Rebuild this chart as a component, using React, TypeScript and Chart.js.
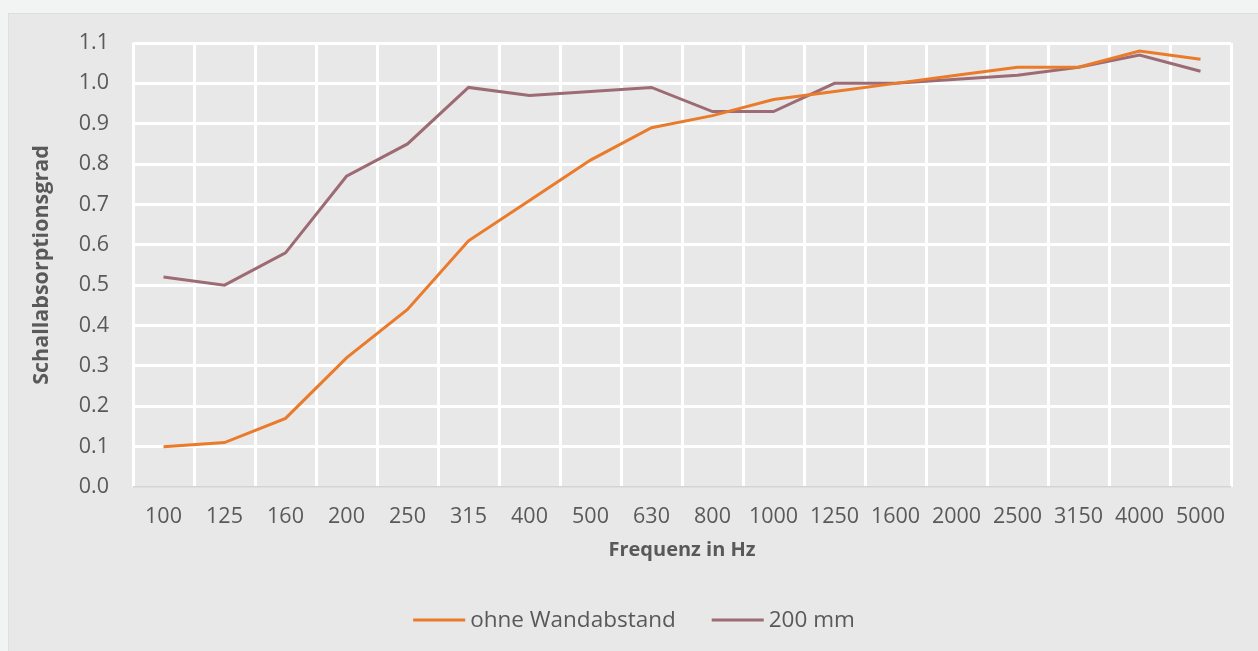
import React, { useEffect, useRef } from "react";
import { Chart, registerables } from "chart.js";

Chart.register(...registerables);

const categories = ["100", "125", "160", "200", "250", "315", "400", "500", "630", "800", "1000", "1250", "1600", "2000", "2500", "3150", "4000", "5000"];
const ohneWandabstand = [0.10, 0.11, 0.17, 0.32, 0.44, 0.61, 0.71, 0.81, 0.89, 0.92, 0.96, 0.98, 1.00, 1.02, 1.04, 1.04, 1.08, 1.06];
const mm200 = [0.52, 0.50, 0.58, 0.77, 0.85, 0.99, 0.97, 0.98, 0.99, 0.93, 0.93, 1.00, 1.00, 1.01, 1.02, 1.04, 1.07, 1.03];
const seriesNames = ["ohne Wandabstand", "200 mm"];
const seriesColors = ["#E97B2B", "#9C6B74"];
const yTitle = "Schallabsorptionsgrad";
const xTitle = "Frequenz in Hz";

const FONT = "'Open Sans', 'Noto Sans', sans-serif";
const TEXT = "#595959";

const bottomLegend = {
  id: "bottomLegend",
  afterDraw(chart: any) {
    const ctx = chart.ctx;
    const lineW = 52;
    const gap = 5;
    const itemGap = 36;
    ctx.save();
    ctx.font = `22.5px ${FONT}`;
    const items = chart.data.datasets.map((d: any) => ({
      label: d.label,
      color: d.borderColor,
      tw: ctx.measureText(d.label).width,
    }));
    const total = items.reduce((a: number, it: any) => a + lineW + gap + it.tw, 0) + itemGap * (items.length - 1);
    let x = chart.width / 2 - total / 2;
    const y = 606;
    ctx.textBaseline = "middle";
    ctx.textAlign = "left";
    for (const it of items) {
      ctx.strokeStyle = it.color;
      ctx.lineWidth = 3;
      ctx.beginPath();
      ctx.moveTo(x, y);
      ctx.lineTo(x + lineW, y);
      ctx.stroke();
      x += lineW + gap;
      ctx.fillStyle = TEXT;
      ctx.fillText(it.label, x, y + 1);
      x += it.tw + itemGap;
    }
    ctx.restore();
  },
};

export default function App() {
  const ref = useRef<HTMLCanvasElement | null>(null);

  useEffect(() => {
    document.body.style.margin = "0";
    document.body.style.background = "#f2f3f3";
    if (!ref.current) return;
    const chart = new Chart(ref.current, {
      type: "line",
      data: {
        labels: categories,
        datasets: [
          {
            label: seriesNames[0],
            data: ohneWandabstand,
            borderColor: seriesColors[0],
            backgroundColor: seriesColors[0],
            borderWidth: 3,
            pointRadius: 0,
            tension: 0,
          },
          {
            label: seriesNames[1],
            data: mm200,
            borderColor: seriesColors[1],
            backgroundColor: seriesColors[1],
            borderWidth: 3,
            pointRadius: 0,
            tension: 0,
          },
        ],
      },
      options: {
        animation: false,
        responsive: false,
        maintainAspectRatio: false,
        layout: { padding: { left: 0, right: 28, top: 29, bottom: 75 } },
        plugins: {
          tooltip: { enabled: false },
          legend: { display: false },
        },
        scales: {
          x: {
            offset: true,
            grid: { color: "#ffffff", lineWidth: 3, offset: true, drawTicks: false },
            border: { display: false },
            ticks: { font: { family: FONT, size: 21.5 }, color: TEXT, padding: 17, maxRotation: 0, autoSkip: false },
            title: {
              display: true,
              text: xTitle,
              color: TEXT,
              font: { family: FONT, size: 20, weight: "bold" },
              padding: { top: 8, bottom: 15 },
            },
            afterFit: (s: any) => {
              s.height = 90;
            },
          },
          y: {
            min: 0,
            max: 1.1,
            grid: {
              color: (c: any) => (c.tick && c.tick.value === 0 ? "#d4d4d4" : "#ffffff"),
              lineWidth: (c: any) => (c.tick && c.tick.value === 0 ? 1.5 : 3),
              drawTicks: false,
            },
            border: { display: false },
            ticks: {
              stepSize: 0.1,
              font: { family: FONT, size: 21.5 },
              color: TEXT,
              padding: 24,
              callback: (v: any) => Number(v).toFixed(1),
            },
            title: {
              display: true,
              text: yTitle,
              color: TEXT,
              font: { family: FONT, size: 21.5, weight: "bold" },
              padding: { top: 20, bottom: 0 },
            },
            afterFit: (s: any) => {
              s.width = 124;
              s.paddingTop = 0;
              s.paddingBottom = 0;
            },
          },
        },
      },
      plugins: [bottomLegend],
    });
    return () => chart.destroy();
  }, []);

  return (
    <div style={{ position: "relative", width: 1258, height: 651, background: "#f2f3f3", overflow: "hidden" }}>
      <div
        style={{
          position: "absolute",
          left: 8,
          top: 13,
          width: 1260,
          height: 650,
          background: "#e8e8e8",
          borderTop: "1px solid #dedede",
          borderLeft: "1px solid #dedede",
          boxSizing: "border-box",
        }}
      >
        <canvas ref={ref} width={1250} height={638} style={{ display: "block", width: 1250, height: 638 }} />
      </div>
    </div>
  );
}
